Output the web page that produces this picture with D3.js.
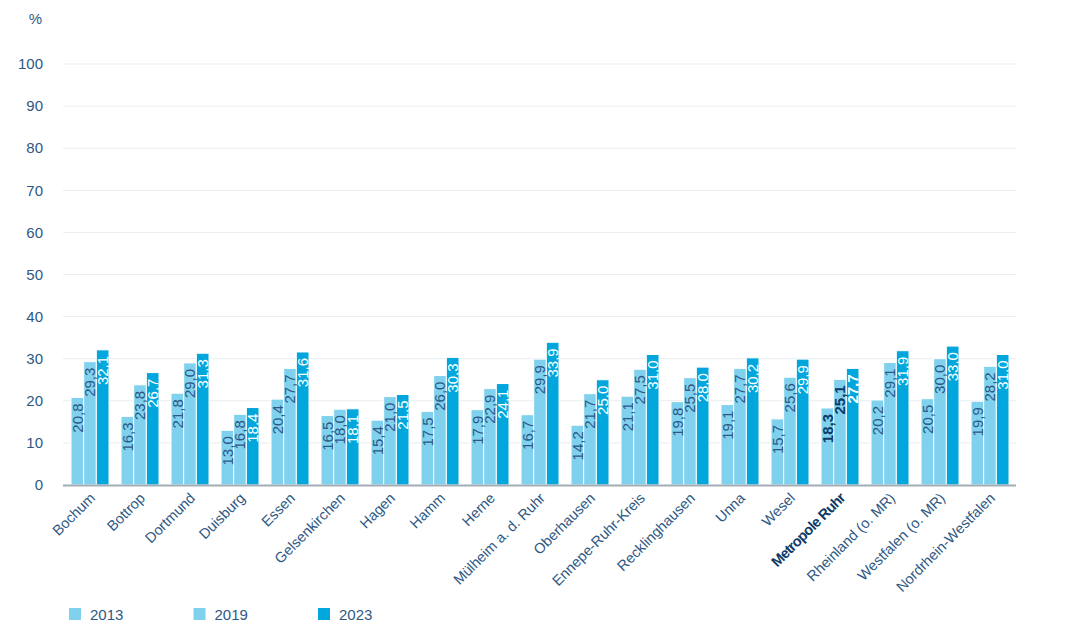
<!DOCTYPE html>
<html>
<head>
<meta charset="utf-8">
<script src="https://cdn.jsdelivr.net/npm/d3@7"></script>
<style>
  body { margin: 0; background: #fff; }
  svg { display: block; font-family: "Liberation Sans", Arial, sans-serif; }
</style>
</head>
<body>
<svg id="chart"></svg>
<script>
const categories = ["Bochum", "Bottrop", "Dortmund", "Duisburg", "Essen", "Gelsenkirchen", "Hagen", "Hamm", "Herne",
  "Mülheim a. d. Ruhr", "Oberhausen", "Ennepe-Ruhr-Kreis", "Recklinghausen", "Unna", "Wesel", "Metropole Ruhr",
  "Rheinland (o. MR)", "Westfalen (o. MR)", "Nordrhein-Westfalen"];
const years = ["2013", "2019", "2023"];
const values2013 = [20.8, 16.3, 21.8, 13.0, 20.4, 16.5, 15.4, 17.5, 17.9, 16.7, 14.2, 21.1, 19.8, 19.1, 15.7, 18.3, 20.2, 20.5, 19.9];
const values2019 = [29.3, 23.8, 29.0, 16.8, 27.7, 18.0, 21.0, 26.0, 22.9, 29.9, 21.7, 27.5, 25.5, 27.7, 25.6, 25.1, 29.1, 30.0, 28.2];
const values2023 = [32.1, 26.7, 31.3, 18.4, 31.6, 18.1, 21.5, 30.3, 24.1, 33.9, 25.0, 31.0, 28.0, 30.2, 29.9, 27.7, 31.9, 33.0, 31.0];
const yTicks = [0, 10, 20, 30, 40, 50, 60, 70, 80, 90, 100];
const highlight = "Metropole Ruhr";

const colors = { "2013": "#80d1ee", "2019": "#80d1ee", "2023": "#00a6dc" };
const textColor = "#2e5884";
const boldColor = "#0d3a66";

const width = 1080, height = 632;
const svg = d3.select("#chart").attr("width", width).attr("height", height);

const series = [values2013, values2019, values2023];
const rows = categories.map((c, i) => ({ cat: c, vals: years.map((y, k) => ({ year: y, v: series[k][i] })) }));

// --- Scales ---
const x0 = d3.scaleBand().domain(categories).range([65, 1015]).paddingInner(0.24).paddingOuter(0.12);
const x1 = d3.scaleBand().domain(years).range([0, x0.bandwidth()]);
const y = d3.scaleLinear().domain([0, 100]).range([485, 64]);

// --- Grid ---
svg.append("g")
  .selectAll("line")
  .data(yTicks.filter(d => d > 0))
  .join("line")
  .attr("x1", 63).attr("x2", 1016)
  .attr("y1", d => y(d)).attr("y2", d => y(d))
  .attr("stroke", "#e9edf1").attr("stroke-width", 1);

// y tick labels
svg.append("g")
  .selectAll("text")
  .data(yTicks)
  .join("text")
  .attr("x", 43)
  .attr("y", d => y(d))
  .attr("dy", "0.35em")
  .attr("text-anchor", "end")
  .attr("fill", textColor)
  .style("font-size", "15px")
  .text(d => d);

svg.append("text")
  .attr("x", 42).attr("y", 24)
  .attr("text-anchor", "end")
  .attr("fill", textColor)
  .style("font-size", "15px")
  .text("%");

// --- Bars ---
const groups = svg.append("g")
  .selectAll("g")
  .data(rows)
  .join("g")
  .attr("transform", d => `translate(${x0(d.cat)},0)`);

groups.selectAll("rect")
  .data(d => d.vals)
  .join("rect")
  .attr("x", d => x1(d.year))
  .attr("y", d => y(d.v))
  .attr("width", x1.bandwidth())
  .attr("height", d => y(0) - y(d.v))
  .attr("fill", d => colors[d.year])
  .attr("stroke", "#ffffff")
  .attr("stroke-width", 1);

// value labels
groups.each(function (row) {
  const bold = row.cat === highlight;
  d3.select(this).selectAll("text")
    .data(row.vals)
    .join("text")
    .attr("transform", d => `translate(${x1(d.year) + x1.bandwidth() / 2},${y(d.v) + 6}) rotate(-90)`)
    .attr("dy", "0.36em")
    .attr("text-anchor", "end")
    .attr("fill", d => d.year === "2023" ? "#ffffff" : (bold ? boldColor : textColor))
    .style("font-size", "15px")
    .style("font-weight", bold ? "bold" : "normal")
    .text(d => d.v.toFixed(1).replace(".", ","));
});

// --- X axis ---
svg.append("line")
  .attr("x1", 63).attr("x2", 1016)
  .attr("y1", y(0) + 0.5).attr("y2", y(0) + 0.5)
  .attr("stroke", "#a3adb8").attr("stroke-width", 2);

svg.append("g")
  .selectAll("text")
  .data(categories)
  .join("text")
  .attr("transform", d => `translate(${x0(d) + x0.bandwidth() / 2 + 6},${y(0) + 14}) rotate(-45)`)
  .attr("text-anchor", "end")
  .attr("fill", d => d === highlight ? boldColor : textColor)
  .style("font-size", "14.5px")
  .style("font-weight", d => d === highlight ? "bold" : "normal")
  .style("letter-spacing", d => d === highlight ? "-0.7px" : "0")
  .text(d => d);

// --- Legend ---
const legend = svg.append("g")
  .selectAll("g")
  .data(years)
  .join("g")
  .attr("transform", (d, i) => `translate(${69 + i * 124.5},608)`);

legend.append("rect")
  .attr("width", 12).attr("height", 12)
  .attr("fill", d => colors[d]);

legend.append("text")
  .attr("x", 21).attr("y", 12)
  .attr("fill", textColor)
  .style("font-size", "15px")
  .text(d => d);
</script>
</body>
</html>
